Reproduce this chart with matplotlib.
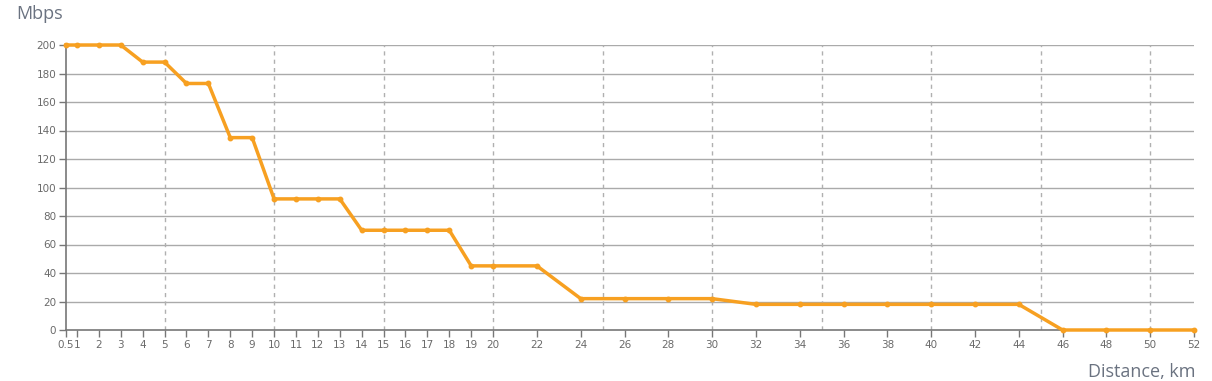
import matplotlib
matplotlib.use('Agg')
import matplotlib.pyplot as plt

# Distance (km) vs throughput (Mbps)
distance_km = [0.5, 1, 2, 3, 4, 5, 6, 7, 8, 9, 10, 11, 12, 13, 14, 15, 16, 17, 18, 19, 20,
               22, 24, 26, 28, 30, 32, 34, 36, 38, 40, 42, 44, 46, 48, 50, 52]
speed_mbps = [200, 200, 200, 200, 188, 188, 173, 173, 135, 135, 92, 92, 92, 92, 70, 70, 70, 70, 70, 45, 45,
              45, 22, 22, 22, 22, 18, 18, 18, 18, 18, 18, 18, 0, 0, 0, 0]

x_ticks = [0.5] + list(range(1, 21)) + list(range(22, 53, 2))
x_tick_labels = ['0.5'] + [str(v) for v in range(1, 21)] + [str(v) for v in range(22, 53, 2)]
y_ticks = list(range(0, 201, 20))
v_grid = list(range(5, 51, 5))

fig = plt.figure(figsize=(12.12, 3.81), dpi=100)
ax = fig.add_axes([66 / 1212, 1 - 330 / 381, 1128 / 1212, 285 / 381])

# grid
for y in y_ticks[1:]:
    ax.axhline(y, color='#aaaaaa', linewidth=1, zorder=1)
for x in v_grid:
    ax.axvline(x, color='#b0b0b0', linewidth=1, linestyle=(0, (3, 3)), zorder=1)

ax.plot(distance_km, speed_mbps, color='#f7a021', linewidth=2.5, marker='o',
        markersize=3.2, zorder=3, clip_on=False)

ax.set_xlim(0.5, 52)
ax.set_ylim(0, 200)
ax.set_xticks(x_ticks)
ax.set_xticklabels(x_tick_labels)
ax.set_yticks(y_ticks)

for side in ['top', 'right']:
    ax.spines[side].set_visible(False)
for side in ['left', 'bottom']:
    ax.spines[side].set_color('#777777')
    ax.spines[side].set_linewidth(1.2)
ax.tick_params(axis='both', colors='#777777', labelcolor='#6a6a6a', labelsize=7.5,
               length=5, width=1, pad=2)

fig.text(16 / 1212, 1 - 14 / 381, 'Mbps', fontsize=13, color='#6a7280',
         family='Open Sans', va='center', ha='left')
fig.text(1196 / 1212, 1 - 372 / 381, 'Distance, km', fontsize=13, color='#6a7280',
         family='Open Sans', va='center', ha='right')

fig.savefig('out.png', dpi=100)
